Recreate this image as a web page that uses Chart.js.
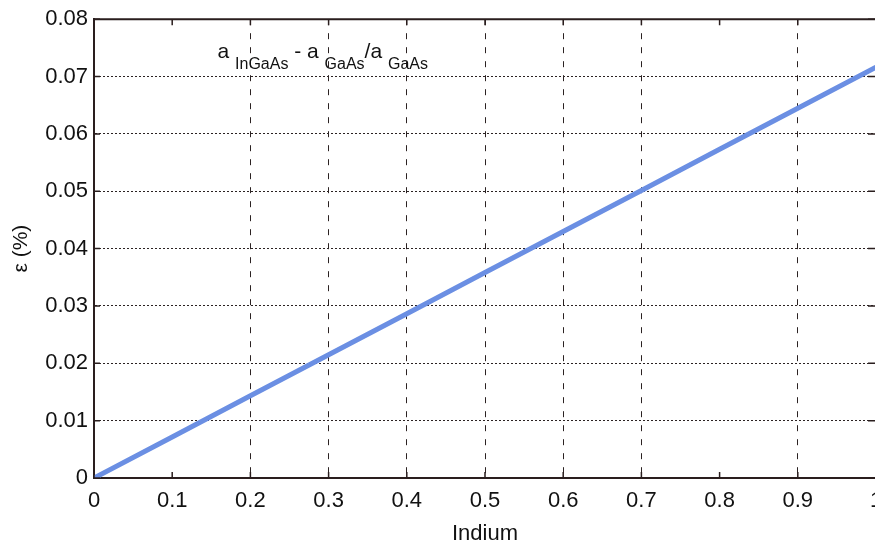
<!DOCTYPE html>
<html>
<head>
<meta charset="utf-8">
<script src="https://cdn.jsdelivr.net/npm/chart.js@4/dist/chart.umd.min.js"></script>
<style>
  html, body { margin: 0; padding: 0; background: #fff; overflow: hidden; }
  #wrap { width: 876px; height: 547px; }
</style>
</head>
<body>
<div id="wrap"><canvas id="chart"></canvas></div>
<script>
const indium = [0, 0.1, 0.2, 0.3, 0.4, 0.5, 0.6, 0.7, 0.8, 0.9, 1];
const strain = [0, 0.00716, 0.01433, 0.02149, 0.02865, 0.03582, 0.04298, 0.05014, 0.05731, 0.06447, 0.07164];
// x positions where no dashed grid line shows
const noGridX = [0, 0.1, 0.8, 1];

const axisColor = "#2a1e1e";
const gridColor = "#2b2222";
const font = "'Liberation Sans', Arial, sans-serif";

const near = (v, list) => list.some(a => Math.abs(a - v) < 1e-6);
const fmt = v => String(+v.toFixed(2));

// box frame, inward tick marks and the formula label
const frame = {
  id: "frame",
  afterDraw(chart) {
    const { ctx, chartArea: a, scales: { x, y } } = chart;
    ctx.save();
    ctx.strokeStyle = axisColor;
    ctx.lineWidth = 2;
    ctx.beginPath();
    ctx.moveTo(a.left, a.top);
    ctx.lineTo(a.right, a.top);
    ctx.lineTo(a.right, a.bottom);
    ctx.stroke();

    ctx.lineWidth = 1.5;
    ctx.beginPath();
    x.ticks.forEach(t => {
      const px = x.getPixelForValue(t.value);
      ctx.moveTo(px, a.bottom); ctx.lineTo(px, a.bottom - 6);
      ctx.moveTo(px, a.top); ctx.lineTo(px, a.top + 6);
    });
    y.ticks.forEach(t => {
      const py = y.getPixelForValue(t.value);
      ctx.moveTo(a.left, py); ctx.lineTo(a.left + 6, py);
      ctx.moveTo(a.right, py); ctx.lineTo(a.right - 8, py);
    });
    ctx.stroke();

    // a_InGaAs - a_GaAs / a_GaAs
    let px = x.getPixelForValue(0.158);
    const base = y.getPixelForValue(0.0733);
    ctx.fillStyle = "#111";
    ctx.textBaseline = "alphabetic";
    const parts = [
      ["a ", 21, 0], ["InGaAs", 16, 11], [" - a ", 21, 0], ["GaAs", 16, 11],
      ["/a ", 21, 0], ["GaAs", 16, 11]
    ];
    parts.forEach(([s, size, dy]) => {
      ctx.font = size + "px " + font;
      ctx.fillText(s, px, base + dy);
      px += ctx.measureText(s).width;
    });
    ctx.restore();
  }
};

new Chart(document.getElementById("chart"), {
  type: "line",
  data: {
    datasets: [{
      data: indium.map((v, i) => ({ x: v, y: strain[i] })),
      borderColor: "#6b8fe3",
      borderWidth: 5,
      pointRadius: 0,
      fill: false
    }]
  },
  options: {
    responsive: true,
    maintainAspectRatio: false,
    animation: false,
    layout: { padding: { top: 18, left: 0, right: 0, bottom: 0 } },
    plugins: { legend: { display: false }, tooltip: { enabled: false } },
    scales: {
      x: {
        type: "linear",
        min: 0,
        max: 1,
        afterFit: s => { s.paddingRight = 0; s.paddingLeft = 0; s.height = 69; },
        ticks: {
          stepSize: 0.1,
          color: "#111",
          padding: 10,
          maxRotation: 0,
          callback: fmt,
          font: { family: font, size: 22 }
        },
        grid: {
          drawTicks: false,
          lineWidth: 1,
          color: c => near(c.tick.value, noGridX) ? "rgba(0,0,0,0)" : gridColor
        },
        border: { display: true, color: axisColor, width: 2, dash: [6, 8] },
        title: {
          display: true,
          text: "Indium",
          color: "#111",
          font: { family: font, size: 22 },
          padding: { top: 0, bottom: 0 }
        }
      },
      y: {
        min: 0,
        max: 0.08,
        afterFit: s => { s.width = 94; },
        ticks: {
          stepSize: 0.01,
          color: "#111",
          padding: 6,
          callback: fmt,
          font: { family: font, size: 22 }
        },
        grid: {
          drawTicks: false,
          lineWidth: 1,
          color: c => near(c.tick.value, [0, 0.08]) ? "rgba(0,0,0,0)" : gridColor
        },
        border: { display: true, color: axisColor, width: 2, dash: [2, 2] },
        title: {
          display: true,
          text: "ε (%)",
          color: "#111",
          font: { family: font, size: 21 },
          padding: { top: 9, bottom: 0 }
        }
      }
    }
  },
  plugins: [frame]
});
</script>
</body>
</html>
